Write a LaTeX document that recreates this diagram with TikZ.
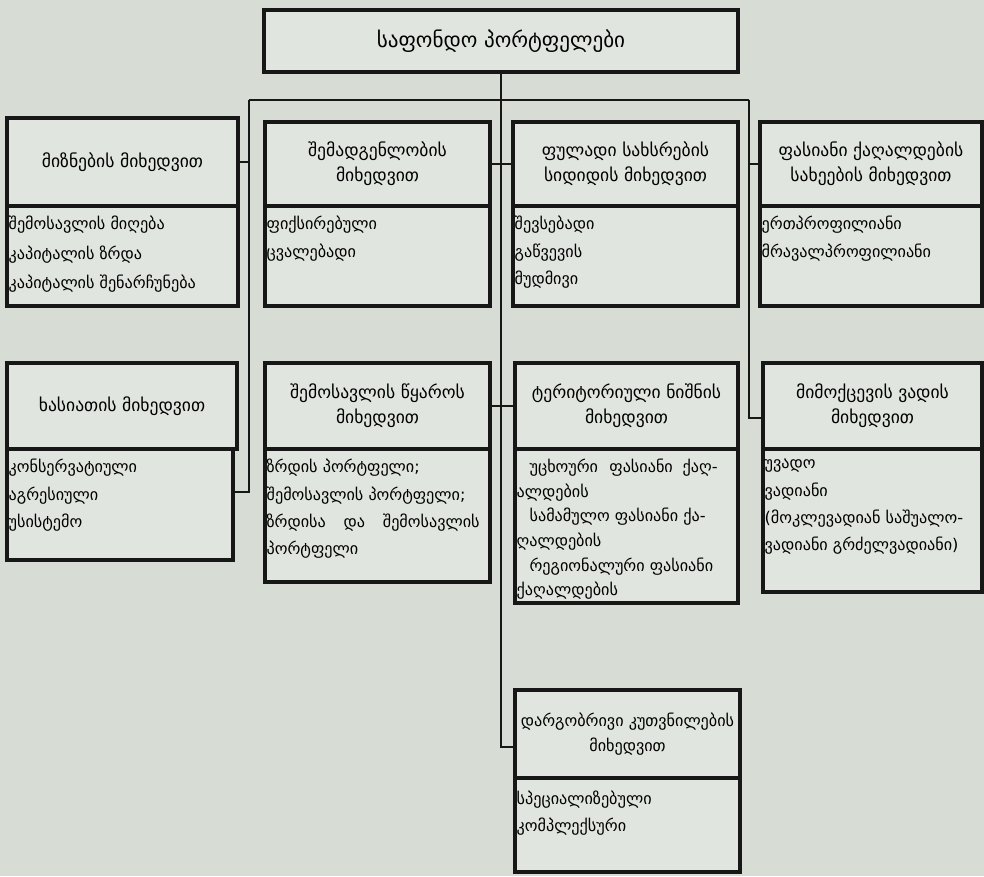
\documentclass[tikz,border=0pt]{standalone}
\usepackage{fontspec}
\setmainfont{DejaVu Sans}
\usepackage{tikz}
\usetikzlibrary{positioning}

\definecolor{paper}{HTML}{D7DCD5}
\definecolor{boxfill}{HTML}{E1E5DF}
\definecolor{ink}{HTML}{171717}

\tikzset{
  headbox/.style={draw=ink, fill=boxfill, line width=2.6pt, outer sep=0pt, inner sep=2pt,
    align=center, font=\fontsize{12.5}{18}\selectfont},
  itembox/.style={draw=ink, fill=boxfill, line width=2.6pt, outer sep=0pt, inner sep=0pt},
  itemtxt/.style={anchor=north west, align=left, inner sep=1pt,
    font=\fontsize{11.5}{19.5}\selectfont},
  link/.style={draw=ink, line width=2pt}
}

\begin{document}
\begin{tikzpicture}[x=0.025cm, y=-0.025cm]
    % paper
    \fill[paper] (0,0) rectangle (984,876);

    % title
    \node[headbox, minimum width=11.85cm, minimum height=1.55cm, font=\fontsize{15}{18}\selectfont]
        (title) at (501,41) {საფონდო პორტფელები};

    % first row
    \node[headbox, minimum width=5.775cm, minimum height=2.2cm] (h1) at (122.5,162) {მიზნების მიხედვით};
    \node[itembox, minimum width=5.775cm, minimum height=2.5cm] (i1) at (122.5,256) {};
    \node[itemtxt, font=\fontsize{11.5}{21}\selectfont] (t1) at ([yshift=-6pt]i1.north west)
        {შემოსავლის მიღება\\კაპიტალის ზრდა\\კაპიტალის შენარჩუნება};

    \node[headbox, minimum width=5.625cm, minimum height=2.1cm] (h2) at (377.5,164) {შემადგენლობის\\მიხედვით};
    \node[itembox, minimum width=5.625cm, minimum height=2.5cm] (i2) at (377.5,256) {};
    \node[itemtxt] (t2) at ([yshift=-6pt]i2.north west) {ფიქსირებული\\ცვალებადი};

    \node[headbox, minimum width=5.625cm, minimum height=2.1cm] (h3) at (625.5,164) {ფულადი სახსრების\\სიდიდის მიხედვით};
    \node[itembox, minimum width=5.625cm, minimum height=2.5cm] (i3) at (625.5,256) {};
    \node[itemtxt] (t3) at ([yshift=-6pt]i3.north west) {შევსებადი\\გაწვევის\\მუდმივი};

    \node[headbox, minimum width=5.55cm, minimum height=2.1cm] (h4) at (871,164) {ფასიანი ქაღალდების\\სახეების მიხედვით};
    \node[itembox, minimum width=5.55cm, minimum height=2.5cm] (i4) at (871,256) {};
    \node[itemtxt] (t4) at ([yshift=-6pt]i4.north west) {ერთპროფილიანი\\მრავალპროფილიანი};

    % second row
    \node[headbox, minimum width=5.75cm, minimum height=2.15cm] (h5) at (122,406) {ხასიათის მიხედვით};
    \node[itembox, minimum width=5.65cm, minimum height=2.775cm] (i5) at (120,504.5) {};
    \node[itemtxt] (t5) at ([yshift=-6pt]i5.north west) {კონსერვატიული\\აგრესიული\\უსისტემო};

    \node[headbox, minimum width=5.625cm, minimum height=2.15cm] (h6) at (377.5,406) {შემოსავლის წყაროს\\მიხედვით};
    \node[itembox, minimum width=5.625cm, minimum height=3.325cm] (i6) at (377.5,515.5) {};
    \node[itemtxt] (t6) at ([yshift=-6pt]i6.north west)
        {ზრდის პორტფელი;\\შემოსავლის პორტფელი;\\ზრდისა\hspace{1.1em}და\hspace{1.1em}შემოსავლის\\პორტფელი};

    \node[headbox, minimum width=5.575cm, minimum height=2.15cm] (h7) at (626.5,406) {ტერიტორიული ნიშნის\\მიხედვით};
    \node[itembox, minimum width=5.575cm, minimum height=3.85cm] (i7) at (626.5,526) {};
    \node[itemtxt, font=\fontsize{11.5}{17.5}\selectfont] (t7) at ([yshift=-6pt]i7.north west)
        {\hspace{0.8em}უცხოური\hspace{0.7em}ფასიანი\hspace{0.6em}ქაღ-\\ალდების\\
         \hspace{0.8em}სამამულო ფასიანი ქა-\\ღალდების\\
         \hspace{0.8em}რეგიონალური ფასიანი\\ქაღალდების};

    \node[headbox, minimum width=5.475cm, minimum height=2.15cm] (h8) at (872.5,406) {მიმოქცევის ვადის\\მიხედვით};
    \node[itembox, minimum width=5.475cm, minimum height=3.575cm] (i8) at (872.5,520.5) {};
    \node[itemtxt] (t8) at ([yshift=-6pt]i8.north west)
        {უვადო\\ვადიანი\\(მოკლევადიან საშუალო-\\ვადიანი გრძელვადიანი)};

    % bottom
    \node[headbox, minimum width=5.625cm, minimum height=2.2cm, inner sep=0pt, font=\fontsize{11.5}{18}\selectfont]
        (h9) at (627.5,734) {დარგობრივი კუთვნილების\\მიხედვით};
    \node[itembox, minimum width=5.625cm, minimum height=2.35cm] (i9) at (627.5,825) {};
    \node[itemtxt] (t9) at ([yshift=-8pt]i9.north west) {სპეციალიზებული\\კომპლექსური};

    % connectors
    \coordinate (bar) at (501,100);
    \coordinate (barL) at (249,100);
    \coordinate (barR) at (749,100);
    \coordinate (leftEnd) at (249,492);
    \coordinate (rightEnd) at (749,418);
    \coordinate (midEnd) at (501,747);

    \draw[link] (title.south) -- (midEnd) -- (midEnd -| h9.west);
    \draw[link] (barL) -- (barR);
    \draw[link] (barL) -- (leftEnd) -- (leftEnd -| i5.east);
    \draw[link] (barR) -- (rightEnd) -- (rightEnd -| h8.west);
    \draw[link] (h1.east) -- (h1.east -| barL);
    \draw[link] (h2.east) -- (h2.east -| bar);
    \draw[link] (h3.west) -- (h3.west -| bar);
    \draw[link] (h4.west) -- (h4.west -| barR);
    \draw[link] (h6.east) -- (h6.east -| bar);
    \draw[link] (h7.west) -- (h7.west -| bar);
\end{tikzpicture}
\end{document}
